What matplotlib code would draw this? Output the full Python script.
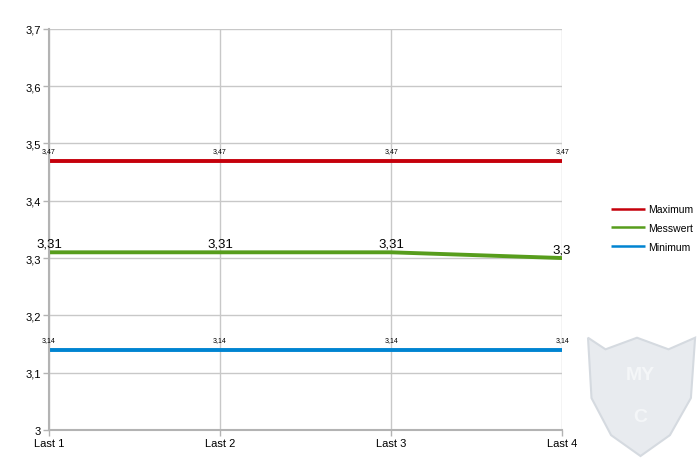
import matplotlib
matplotlib.use("Agg")
import matplotlib.pyplot as plt
from matplotlib.patches import Polygon

categories = ["Last 1", "Last 2", "Last 3", "Last 4"]
maximum = [3.47, 3.47, 3.47, 3.47]
messwert = [3.31, 3.31, 3.31, 3.30]
minimum = [3.14, 3.14, 3.14, 3.14]
yticks = [3.0, 3.1, 3.2, 3.3, 3.4, 3.5, 3.6, 3.7]

def de(v):
    s = f"{v:.2f}".rstrip("0").rstrip(".")
    return s.replace(".", ",")

plt.rcParams['font.family'] = ['Liberation Sans', 'DejaVu Sans']

fig = plt.figure(figsize=(7, 4.64), dpi=100)
ax = fig.add_axes([0.07, 0.071, 0.733, 0.865])

x = list(range(len(categories)))
ax.plot(x, maximum, color="#c5000b", lw=2.8, label="Maximum", solid_capstyle="butt")
ax.plot(x, messwert, color="#579d1c", lw=2.8, label="Messwert", solid_capstyle="butt")
ax.plot(x, minimum, color="#0084d1", lw=2.8, label="Minimum", solid_capstyle="butt")

for xi, v in zip(x, maximum):
    ax.annotate(de(v), (xi, v), xytext=(0, 5), textcoords="offset points",
                ha="center", va="bottom", fontsize=5, color="#000000")
for xi, v in zip(x, minimum):
    ax.annotate(de(v), (xi, v), xytext=(0, 5), textcoords="offset points",
                ha="center", va="bottom", fontsize=5, color="#000000")
for xi, v in zip(x, messwert):
    ax.annotate(de(v), (xi, v), xytext=(0, 2), textcoords="offset points",
                ha="center", va="bottom", fontsize=9.5, color="#000000")

ax.set_xlim(0, len(categories) - 1)
ax.set_ylim(3.0, 3.7)
ax.set_yticks(yticks)
ax.set_yticklabels([de(t) for t in yticks], fontsize=8)
ax.set_xticks(x)
ax.set_xticklabels(categories, fontsize=8)
ax.grid(True, color="#c8c8c8", lw=1)
ax.set_axisbelow(True)
for s in ["top", "right"]:
    ax.spines[s].set_visible(False)
for s in ["left", "bottom"]:
    ax.spines[s].set_color("#b3b3b3")
    ax.spines[s].set_linewidth(1.5)
ax.tick_params(axis="both", color="#b3b3b3", length=4, width=1, pad=2)

leg = fig.legend(loc="upper left", bbox_to_anchor=(0.86, 0.578), frameon=False,
                 fontsize=7.5, handlelength=3.2, handletextpad=0.3, labelspacing=0.85)
for h in leg.get_lines():
    h.set_linewidth(1.8)

# watermark shield
shield = Polygon([(0.84, 0.27), (0.865, 0.245), (0.91, 0.27), (0.955, 0.245),
                  (0.993, 0.27), (0.987, 0.14), (0.957, 0.06), (0.915, 0.015),
                  (0.873, 0.06), (0.845, 0.14)], closed=True,
                 transform=fig.transFigure, facecolor="#e8ebef", edgecolor="#d5dae0",
                 lw=1.5, zorder=0)
fig.patches.append(shield)
fig.text(0.915, 0.19, "MY", fontsize=14, color="#f4f6f8", ha="center", va="center",
         fontweight="bold")
fig.text(0.915, 0.10, "C", fontsize=14, color="#f4f6f8", ha="center", va="center",
         fontweight="bold")

fig.savefig("out.png", dpi=100)
